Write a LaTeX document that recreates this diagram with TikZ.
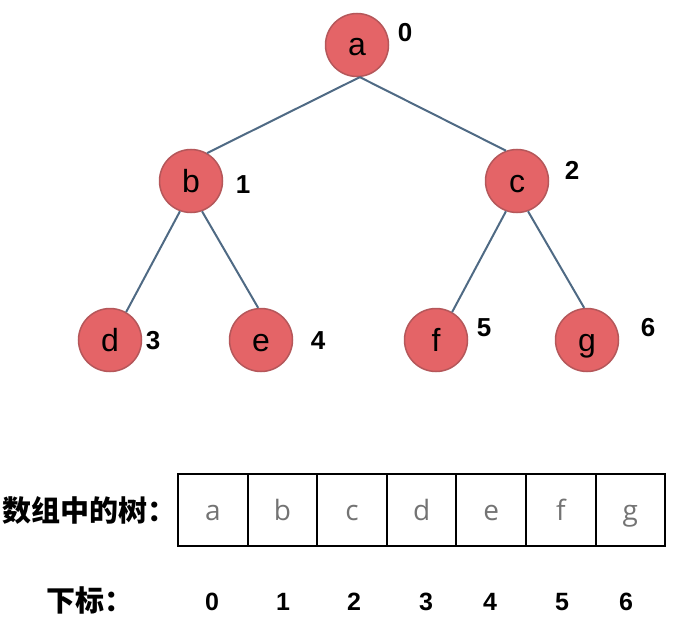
\documentclass[tikz,border=0pt]{standalone}
\usepackage{fontspec}
\setmainfont{Liberation Sans}
\newfontfamily\cjk{Noto Sans CJK SC}
\newfontfamily\cellfont{Open Sans}
\definecolor{nodefill}{HTML}{E46467}
\definecolor{nodeedge}{HTML}{B5575A}
\definecolor{edgecol}{HTML}{4F6A84}
\definecolor{cellgray}{HTML}{737373}
\begin{document}
\begin{tikzpicture}[x=1pt,y=-1pt,
  treenode/.style={circle,draw=nodeedge,fill=nodefill,line width=1.5pt,minimum size=63pt,inner sep=0pt,text height=22pt,text depth=0pt,font=\fontsize{32}{34}\selectfont},
  idx/.style={font=\fontsize{26}{28}\selectfont\bfseries},
  bidx/.style={font=\fontsize{25}{27}\selectfont\bfseries},
  link/.style={draw=edgecol,line width=2pt},
  cell/.style={draw=black,line width=2pt,minimum width=69.6pt,minimum height=72pt,inner sep=0pt,anchor=north west,text=cellgray,text height=21pt,text depth=0pt,font=\cellfont\fontsize{28}{30}\selectfont}]
\useasboundingbox (0,0) rectangle (678,618);
% tree nodes
\node[treenode] (a) at (357,45) {a};
\node[treenode] (b) at (191,181) {b};
\node[treenode] (c) at (517,181) {c};
\node[treenode] (d) at (110,340) {d};
\node[treenode] (e) at (261,340) {e};
\node[treenode] (f) at (436,340) {f};
\node[treenode] (g) at (587,340) {g};
% index labels
\node[idx] (la) at (405,33) {0};
\node[idx] (lb) at (243,185) {1};
\node[idx] (lc) at (572,170) {2};
\node[idx] (ld) at (153,341) {3};
\node[idx] (le) at (318,341) {4};
\node[idx] (lf) at (484,328) {5};
\node[idx] (lg) at (648,328) {6};
% edges
\draw[link] (a.-85) -- (b.60);
\draw[link] (a.-85) -- (c.110);
\draw[link] (b.-110) -- (d.60);
\draw[link] (b.-70) -- (e.95);
\draw[link] (c.-110) -- (f.60);
\draw[link] (c.-70) -- (g.95);
% array
\node[cell] (c0) at (177,473) {a};
\node[cell] (c1) at (246.6,473) {b};
\node[cell] (c2) at (316.2,473) {c};
\node[cell] (c3) at (385.8,473) {d};
\node[cell] (c4) at (455.4,473) {e};
\node[cell] (c5) at (525,473) {f};
\node[cell] (c6) at (594.6,473) {g};
\node[anchor=west,inner sep=0pt,font=\cjk\fontsize{29}{31}\selectfont\bfseries] (arrlbl) at (2,510) {数组中的树：};
\node[anchor=west,inner sep=0pt,font=\cjk\fontsize{29}{31}\selectfont\bfseries] (idxlbl) at (46,600) {下标：};
\node[bidx] (i0) at (212,602) {0};
\node[bidx] (i1) at (283,602) {1};
\node[bidx] (i2) at (354,602) {2};
\node[bidx] (i3) at (426,602) {3};
\node[bidx] (i4) at (490,602) {4};
\node[bidx] (i5) at (562,602) {5};
\node[bidx] (i6) at (626,602) {6};
\end{tikzpicture}
\end{document}
